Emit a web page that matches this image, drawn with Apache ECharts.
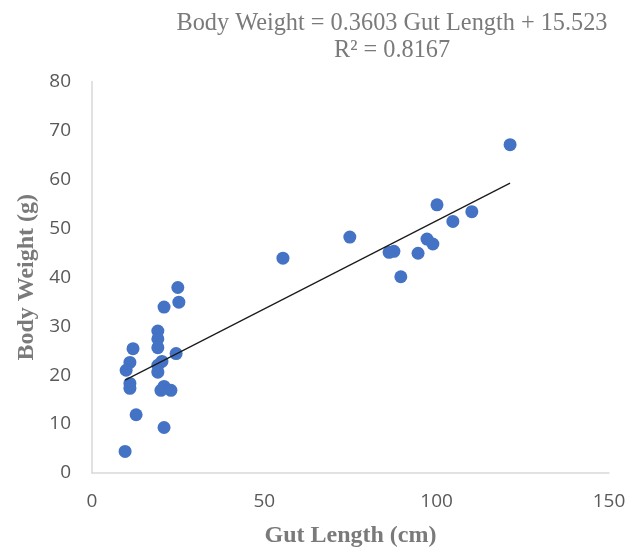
<!DOCTYPE html>
<html><head><meta charset="utf-8">
<script src="https://cdn.jsdelivr.net/npm/echarts@6/dist/echarts.min.js"></script>
<style>html,body{margin:0;padding:0;background:#fff}#c{width:640px;height:553px}</style>
</head><body><div id="c"></div>
<script>
const gutLength = [121.3,100.1,110.2,104.7,97.2,98.9,94.6,87.6,86.2,89.6,74.8,55.4,
  24.9,25.2,20.9,19.1,19.1,19.1,24.4,11.9,11.0,20.3,19.1,19.1,9.9,11.0,11.0,20.9,20.0,22.9,12.8,20.9,9.6];
const bodyWeight = [67.1,54.8,53.4,51.4,47.8,46.8,44.9,45.3,45.1,40.1,48.2,43.9,
  37.9,34.9,33.9,29.0,27.4,25.6,24.4,25.4,22.6,22.8,22.0,20.6,21.0,18.3,17.3,17.7,16.9,16.9,11.9,9.3,4.4];
const slope = 0.3603, intercept = 15.523, rSquared = 0.8167;
const xTicks = [0,50,100,150];
const yTicks = [0,10,20,30,40,50,60,70,80];

const pts = gutLength.map((x,i)=>[x,bodyWeight[i]]);
const xmin = Math.min(...gutLength), xmax = Math.max(...gutLength);
const trend = [[xmin, slope*xmin+intercept],[xmax, slope*xmax+intercept]];

const chart = echarts.init(document.getElementById('c'));
const serif = '"Liberation Serif","Times New Roman",serif';
const sans = '"Open Sans","Noto Sans",sans-serif';
chart.setOption({
  animation:false,
  graphic:[{
    type:'text', x:392, y:10,
    style:{
      text:'Body Weight = ' + slope + ' Gut Length + ' + intercept + '\nR² = ' + rSquared,
      font:'normal 24.3px ' + serif, fill:'#7a7a7a', align:'center', verticalAlign:'top', lineHeight:27
    }
  }],
  grid:{left:92, right:31, top:81.5, bottom:75.5},
  xAxis:{
    type:'value', min:xTicks[0], max:xTicks[xTicks.length-1], interval:50,
    name:'Gut Length (cm)', nameLocation:'middle', nameGap:51,
    nameTextStyle:{fontFamily:serif, fontSize:24, fontWeight:'bold', color:'#7a7a7a'},
    axisLine:{lineStyle:{color:'#d9d9d9', width:1.5}},
    axisTick:{show:false}, splitLine:{show:false},
    axisLabel:{fontFamily:sans, fontSize:19, color:'#595959', margin:19}
  },
  yAxis:{
    type:'value', min:yTicks[0], max:yTicks[yTicks.length-1], interval:10,
    name:'Body Weight (g)', nameLocation:'middle', nameGap:49, nameRotate:90,
    nameTextStyle:{fontFamily:serif, fontSize:24, fontWeight:'bold', color:'#7a7a7a'},
    axisLine:{show:true, lineStyle:{color:'#d9d9d9', width:1.5}},
    axisTick:{show:false}, splitLine:{show:false},
    axisLabel:{fontFamily:sans, fontSize:19, color:'#595959', margin:21}
  },
  series:[
    {type:'scatter', data:pts, symbolSize:13, itemStyle:{color:'#4472C4', opacity:1}},
    {type:'line', data:trend, showSymbol:false, symbol:'none', lineStyle:{color:'#1a1a1a', width:1.2}, z:3}
  ]
});
</script></body></html>
